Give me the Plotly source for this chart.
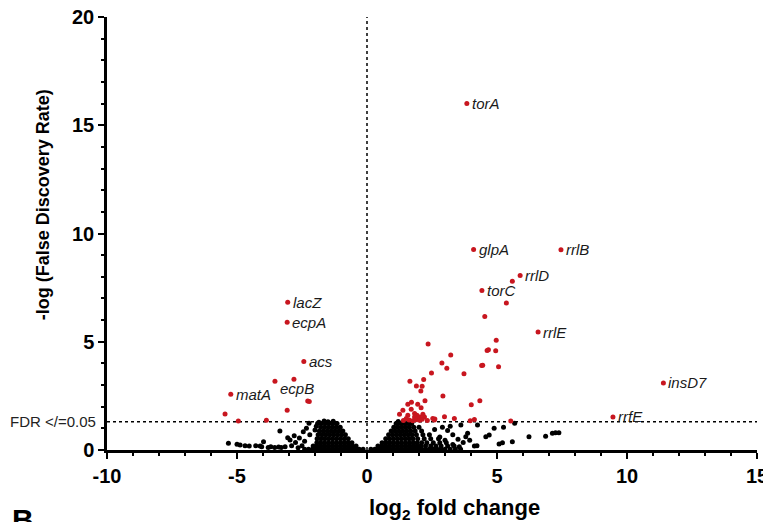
import plotly.graph_objects as go

# ---------------- data ----------------
# labelled (red) genes
label_genes = ["torA", "glpA", "rrlB", "rrlD", "torC", "rrlE", "insD7", "rrfE",
               "lacZ", "ecpA", "acs", "ecpB", "matA"]
label_fc = [3.84, 4.10, 7.46, 5.89, 4.42, 6.58, 11.40, 9.46,
            -3.05, -3.07, -2.43, -3.54, -5.24]
label_lfdr = [16.00, 9.26, 9.25, 8.06, 7.37, 5.45, 3.10, 1.53,
              6.82, 5.90, 4.09, 3.18, 2.58]
label_dy = [0, 0, 0, 0, 0, 0, 0, 0, 0, 0, 0, -7, 0]

# other significant (red) genes
red_fc = [5.59, 5.36, 4.53, 4.97, 2.35, 3.22, 4.67, 4.62, 4.95, 2.88, 3.07, 4.41,
          4.45, 5.06, 2.48, 3.73, 1.65, 2.18, 1.90, 2.12, 2.07, 2.92, 2.23, 4.34,
          1.71, 4.01, 5.53, 2.98, 3.36, 3.97, 4.13, 2.61,
          1.57, 1.95, 2.08, 1.38, 1.25, 1.70, 1.83, 1.92, 2.02, 2.15, 2.21, 1.83,
          1.95, 1.57, 1.51, 2.53, 2.59, 1.40, 1.62, 1.76, 1.88, 2.02, 2.12, 2.32,
          -2.81, -2.28, -2.22, -3.07, -5.46, -4.95, -3.87]
red_lfdr = [7.79, 6.79, 6.17, 5.07, 4.90, 4.39, 4.63, 4.60, 4.58, 4.02, 3.78, 3.90,
            3.92, 3.84, 3.56, 3.52, 3.18, 3.26, 2.96, 2.95, 2.73, 2.49, 2.27, 2.27,
            2.21, 2.09, 1.34, 1.54, 1.46, 1.35, 1.41, 1.43,
            2.11, 2.11, 1.95, 1.84, 1.65, 1.88, 1.69, 1.61, 1.53, 1.65, 1.53, 1.53,
            1.46, 1.61, 1.46, 1.46, 1.38, 1.36, 1.38, 1.35, 1.40, 1.37, 1.42, 1.36,
            3.27, 2.26, 2.24, 1.84, 1.66, 1.34, 1.37]

# non-significant (black) genes
black_fc = [
    # left cloud
    -0.15, -0.3, -0.45, -0.6, -0.75, -0.9, -1.05, -1.2, -1.35, -1.5, -1.65, -1.8, -1.95, -2.1, -2.25, -2.4,
    -0.42, -0.57, -0.72, -0.87, -1.02, -1.17, -1.32, -1.47, -1.62, -1.77, -1.92, -2.07,
    -0.58, -0.73, -0.88, -1.03, -1.18, -1.33, -1.48, -1.63, -1.78, -1.93,
    -0.72, -0.87, -1.02, -1.17, -1.32, -1.47, -1.62, -1.77, -1.92,
    -0.83, -0.98, -1.13, -1.28, -1.43, -1.58, -1.73, -1.88,
    -0.93, -1.08, -1.23, -1.38, -1.53, -1.68, -1.83, -2.0,
    -1.03, -1.18, -1.33, -1.48, -1.63, -1.78, -1.95,
    -1.15, -1.30, -1.45, -1.60, -1.75, -1.90,
    -1.30, -1.50, -1.65, -1.85,
    # left scattered
    -5.33, -5.00, -4.88, -4.69, -4.53, -4.28, -4.11, -4.05, -3.98, -3.80, -3.70, -3.55,
    -3.40, -3.30, -3.15, -3.35, -3.05, -2.96, -2.80, -2.75, -2.60, -2.50, -2.45, -2.33,
    -2.23, -2.40, -2.20, -2.90, -2.65,
    # right cloud
    0.15, 0.3, 0.45, 0.6, 0.75, 0.9, 1.05, 1.2, 1.35, 1.5, 1.65, 1.8, 1.95, 2.1, 2.25, 2.4,
    2.55, 2.7, 2.85, 3.0, 3.2, 3.4, 3.6,
    0.42, 0.57, 0.72, 0.87, 1.02, 1.17, 1.32, 1.47, 1.62, 1.77, 1.92, 2.07, 2.25, 2.45,
    2.65, 2.85, 3.1, 3.35,
    0.58, 0.73, 0.88, 1.03, 1.18, 1.33, 1.48, 1.63, 1.78, 1.93, 2.1, 2.3, 2.55, 2.8, 3.05,
    0.72, 0.87, 1.02, 1.17, 1.32, 1.47, 1.62, 1.77, 1.95, 2.2, 2.45, 2.75,
    0.83, 0.98, 1.13, 1.28, 1.43, 1.58, 1.73, 1.9, 2.15, 2.4,
    0.93, 1.08, 1.23, 1.38, 1.53, 1.68, 1.85, 2.1,
    1.03, 1.18, 1.33, 1.48, 1.63, 1.8, 2.0,
    1.12, 1.27, 1.42, 1.57, 1.72,
    1.20, 1.40, 1.60,
    # right scattered
    3.61, 4.25, 4.89, 5.25, 5.68, 3.87, 3.80, 4.57, 4.70, 4.13, 4.23, 5.08, 5.21, 5.59,
    6.23, 6.87, 7.13, 7.25, 7.38, 3.10, 3.30, 3.50, 2.90, 3.20, 3.70, 3.95, 2.60, 2.80,
    3.00, 3.30, 3.55,
]
black_lfdr = [
    0.04, 0.04, 0.04, 0.04, 0.04, 0.04, 0.04, 0.04, 0.04, 0.04, 0.04, 0.04, 0.04, 0.04, 0.04, 0.04,
    0.18, 0.18, 0.18, 0.18, 0.18, 0.18, 0.18, 0.18, 0.18, 0.18, 0.18, 0.18,
    0.34, 0.34, 0.34, 0.34, 0.34, 0.34, 0.34, 0.34, 0.34, 0.34,
    0.52, 0.52, 0.52, 0.52, 0.52, 0.52, 0.52, 0.52, 0.52,
    0.70, 0.70, 0.70, 0.70, 0.70, 0.70, 0.70, 0.70,
    0.88, 0.88, 0.88, 0.88, 0.88, 0.88, 0.88, 0.92,
    1.05, 1.05, 1.05, 1.05, 1.05, 1.05, 1.10,
    1.22, 1.22, 1.22, 1.22, 1.22, 1.22,
    1.33, 1.30, 1.34, 1.28,
    0.31, 0.26, 0.23, 0.20, 0.18, 0.20, 0.18, 0.15, 0.38, 0.12, 0.15, 0.12,
    0.14, 0.12, 0.15, 0.88, 0.57, 0.46, 0.66, 0.35, 0.55, 0.20, 0.84, 1.00,
    1.23, 0.40, 0.70, 0.20, 0.10,
    0.04, 0.04, 0.04, 0.04, 0.04, 0.04, 0.04, 0.04, 0.04, 0.04, 0.04, 0.04, 0.04, 0.04, 0.04, 0.04,
    0.04, 0.04, 0.04, 0.04, 0.04, 0.04, 0.04,
    0.18, 0.18, 0.18, 0.18, 0.18, 0.18, 0.18, 0.18, 0.18, 0.18, 0.18, 0.18, 0.18, 0.18,
    0.18, 0.18, 0.18, 0.18,
    0.34, 0.34, 0.34, 0.34, 0.34, 0.34, 0.34, 0.34, 0.34, 0.34, 0.34, 0.34, 0.34, 0.34, 0.34,
    0.52, 0.52, 0.52, 0.52, 0.52, 0.52, 0.52, 0.52, 0.52, 0.52, 0.52, 0.52,
    0.70, 0.70, 0.70, 0.70, 0.70, 0.70, 0.70, 0.70, 0.70, 0.70,
    0.88, 0.88, 0.88, 0.88, 0.88, 0.88, 0.88, 0.88,
    1.05, 1.05, 1.05, 1.05, 1.05, 1.05, 1.05,
    1.22, 1.22, 1.22, 1.22, 1.22,
    1.32, 1.30, 1.28,
    1.15, 1.15, 1.00, 1.05, 1.23, 0.77, 0.61, 0.61, 0.69, 0.18, 0.20, 0.28, 0.34, 0.38,
    0.61, 0.64, 0.77, 0.80, 0.80, 0.90, 0.70, 0.50, 1.05, 1.10, 0.35, 0.45, 0.95, 0.60,
    0.45, 0.25, 0.15,
]

fdr_cut = 1.3  # -log10(0.05)
x_ticks = [-10, -5, 0, 5, 10, 15]
y_ticks = [0, 5, 10, 15, 20]

RED = "#c8161f"
FONT = "Arial, Liberation Sans, Helvetica, sans-serif"

fig = go.Figure()
fig.add_trace(go.Scatter(x=black_fc, y=black_lfdr, mode="markers",
                         marker=dict(color="black", size=5), hoverinfo="skip"))
fig.add_trace(go.Scatter(x=red_fc, y=red_lfdr, mode="markers",
                         marker=dict(color=RED, size=5), hoverinfo="skip"))
fig.add_trace(go.Scatter(x=label_fc, y=label_lfdr, mode="markers",
                         marker=dict(color=RED, size=5), hovertext=label_genes,
                         hoverinfo="text"))

for g, x, y, dy in zip(label_genes, label_fc, label_lfdr, label_dy):
    fig.add_annotation(x=x, y=y, xref="x", yref="y", text="<i>" + g + "</i>",
                       showarrow=False, xanchor="left", yanchor="middle",
                       xshift=3, yshift=dy,
                       font=dict(family=FONT, size=15, color="#1a1a1a"))

# threshold lines
fig.add_shape(type="line", x0=0, x1=0, y0=0, y1=20, xref="x", yref="y",
              line=dict(color="black", width=1.5, dash="dot"), layer="below")
fig.add_shape(type="line", x0=-10, x1=15, y0=fdr_cut, y1=fdr_cut, xref="x", yref="y",
              line=dict(color="black", width=1.5, dash="dot"), layer="below")

fig.add_annotation(xref="paper", yref="y", x=-0.014, y=fdr_cut, text="FDR &lt;/=0.05",
                   showarrow=False, xanchor="right", yanchor="middle",
                   font=dict(family=FONT, size=15, color="#222"))

# axis titles
fig.add_annotation(xref="paper", yref="paper", x=-0.098, y=0.566,
                   text="-log (False Discovery Rate)", textangle=-90, showarrow=False,
                   xanchor="center", yanchor="middle",
                   font=dict(family=FONT, size=18, color="black", weight="bold"))
fig.add_annotation(xref="paper", yref="paper", x=0.535, y=-0.136,
                   text="log<sub>2</sub> fold change", showarrow=False,
                   xanchor="center", yanchor="middle",
                   font=dict(family=FONT, size=22, color="black", weight="bold"))
fig.add_annotation(xref="paper", yref="paper", x=-0.150, y=-0.117,
                   text="B", showarrow=False, xanchor="left", yanchor="top",
                   font=dict(family=FONT, size=30, color="black", weight="bold"))

axis_common = dict(showgrid=False, zeroline=False, showline=True, linecolor="black",
                   linewidth=2.5, ticks="outside", ticklen=6, tickwidth=2,
                   tickcolor="black", automargin=False, ticklabeloverflow="allow",
                   tickfont=dict(family=FONT, size=20, color="black", weight="bold"),
                   minor=dict(ticks="outside", ticklen=3, tickwidth=1.5,
                              tickcolor="black", dtick=1, showgrid=False))
fig.update_xaxes(range=[-10, 15], tickvals=x_ticks, ticktext=[str(v) for v in x_ticks],
                 **axis_common)
fig.update_yaxes(range=[0, 20], tickvals=y_ticks, ticktext=[str(v) for v in y_ticks],
                 **axis_common)

# the page body adds an 8px margin, so the figure is 8px smaller on each shown side
fig.update_layout(width=763, height=514, showlegend=False,
                  margin=dict(l=99, r=14, t=9, b=72),
                  plot_bgcolor="white", paper_bgcolor="white")

fig.write_html("out.html")
